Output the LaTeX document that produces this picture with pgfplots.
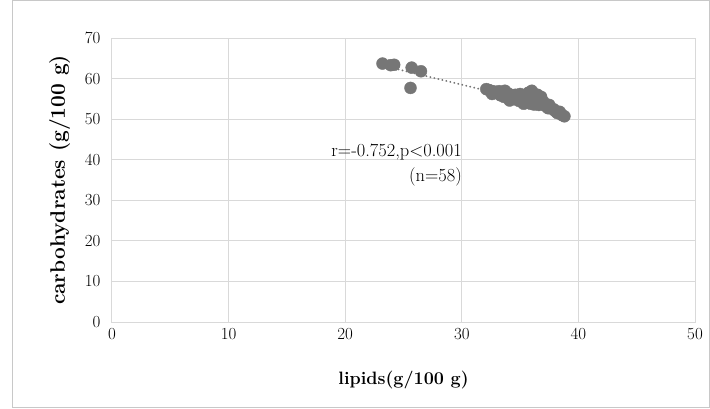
\documentclass[border=0pt]{standalone}
\usepackage{fontspec}
\setmainfont{Latin Modern Roman}
\usepackage{pgfplots}
\pgfplotsset{compat=1.18}
\definecolor{gridgray}{RGB}{217,217,217}
\definecolor{frame}{RGB}{200,200,200}
\definecolor{dotgray}{RGB}{118,118,118}
\begin{document}
\begin{tikzpicture}[x=1bp,y=1bp]
\useasboundingbox (-112,-86) rectangle (598,322);
\draw[frame, line width=1bp] (-99,-85) rectangle (597,321.5);
\begin{axis}[
  at={(0,0)}, anchor=south west,
  scale only axis, width=583bp, height=284bp,
  xmin=0, xmax=50, ymin=0, ymax=70,
  xtick={0,10,...,50}, ytick={0,10,...,70},
  /pgf/number format/assume math mode=true,
  grid=major, major grid style={gridgray, line width=1bp},
  axis line style={gridgray, line width=1bp},
  tick style={draw=none},
  ticklabel style={font=\fontsize{17}{19}\selectfont},
  xticklabel style={yshift=-3bp},
  yticklabel style={xshift=-8bp},
  xlabel={\textbf{lipids(g/100 g)}},
  ylabel={\textbf{carbohydrates (g/100 g)}},
  xlabel style={font=\fontsize{18}{20}\selectfont, yshift=-24bp},
  ylabel style={font=\fontsize{21}{23}\selectfont, yshift=8bp},
  clip=false,
]
\addplot[only marks, mark=*, mark size=6bp, draw=dotgray, fill=dotgray] coordinates {
(23.2,63.7) (23.9,63.3) (24.2,63.4) (25.7,62.7) (26.5,61.8) (25.6,57.7)
(32.1,57.4) (32.3,57.2) (32.5,57.0) (32.8,56.8) (33.0,56.5) (33.2,56.9)
(33.3,55.9) (33.5,56.2) (33.6,55.5) (33.7,57.0) (33.9,55.8) (34.0,56.3)
(34.2,55.1) (34.3,55.7) (34.5,54.9) (34.6,56.0) (34.8,55.3) (34.9,54.5)
(35.0,56.2) (35.1,55.0) (35.2,54.3) (35.3,55.6) (35.4,54.8) (35.5,54.0)
(35.6,55.2) (35.7,56.5) (35.8,54.4) (35.9,53.8) (36.0,55.8) (36.0,57.0)
(36.1,54.7) (36.2,53.6) (36.3,55.3) (36.4,54.1) (36.5,56.0) (36.6,53.5)
(36.7,54.6) (36.8,55.5) (36.9,53.9) (37.0,54.3) (37.2,53.2) (37.4,52.7)
(37.5,53.5) (37.7,52.6) (37.9,52.4) (38.0,52.0) (38.2,51.5) (38.4,51.8)
(38.6,51.0) (38.8,50.7) (32.6,56.2) (34.1,54.6) (35.3,53.8)
};
\addplot[dotgray, line width=2bp, dash pattern=on 0.1bp off 4bp, line cap=round] coordinates {(23.2,63.2) (38.8,52.4)};
\node[anchor=east, font=\fontsize{18.5}{20}\selectfont] at (axis cs:30.3,41.9) {r=-0.752,p<0.001};
\node[anchor=east, font=\fontsize{18.5}{20}\selectfont] at (axis cs:30.3,35.7) {(n=58)};
\end{axis}
\end{tikzpicture}
\end{document}
